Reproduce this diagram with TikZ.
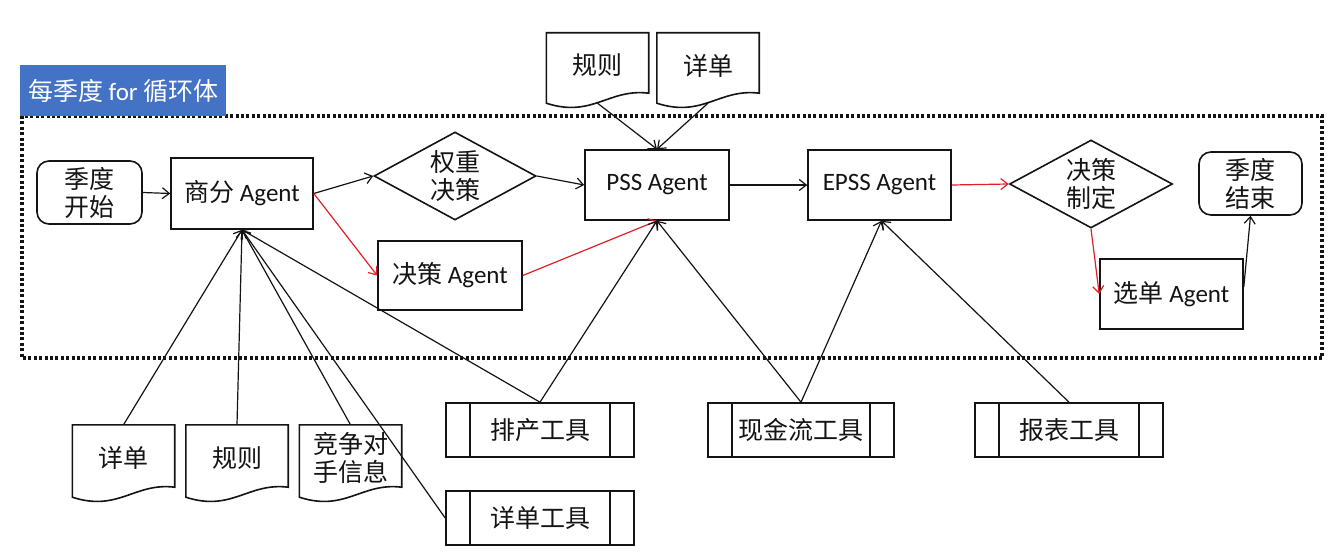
\documentclass[tikz,border=0pt]{standalone}
\usepackage{fontspec}
\setmainfont{Carlito}
\newfontfamily\cjk{Noto Sans CJK SC}
\usetikzlibrary{shapes.geometric,arrows.meta,calc}
\newcommand{\zh}[1]{{\cjk #1}}
\definecolor{lblue}{RGB}{68,114,196}
\definecolor{lred}{RGB}{226,30,40}
\definecolor{ink}{RGB}{20,20,20}
\newcommand{\docline}[1]{\draw[ink, line width=1.6pt] (#1.south west) -- (#1.north west) -- (#1.north east) -- ($(#1.south east)+(0,-10)$) .. controls ($(#1.south east)+(-40,-15)$) and ($(#1.south west)+(46,15)$) .. (#1.south west) -- cycle;}
\begin{document}
\begin{tikzpicture}[x=1pt,y=-1pt,
  every node/.style={font=\fontsize{25}{28}\selectfont, text=ink, align=center, inner sep=0pt},
  sq/.style={draw=ink, line width=1.6pt, rectangle},
  term/.style={sq, rounded corners=12pt},
  dia/.style={draw=ink, line width=1.6pt, diamond, aspect=1.85},
  doc/.style={rectangle, minimum width=102pt},
  tool/.style={sq, minimum width=188pt, minimum height=54pt,
    path picture={
      \draw[ink, line width=1.6pt] ([xshift=24pt]path picture bounding box.north west) -- ([xshift=24pt]path picture bounding box.south west);
      \draw[ink, line width=1.6pt] ([xshift=-24pt]path picture bounding box.north east) -- ([xshift=-24pt]path picture bounding box.south east);
    }},
  conn/.style={draw=ink, line width=1.2pt, -{Straight Barb[length=7pt,width=11pt]}},
  rconn/.style={conn, draw=lred},
  frame/.style={draw=ink, line width=3.4pt, dash pattern=on 3pt off 2.4pt}
]
\useasboundingbox (0,0) rectangle (1334,553);
\fill[white] (0,0) rectangle (1334,553);

% loop frame and label
\draw[frame] (22,116) rectangle (1322,358);
\node[fill=lblue, text=white, minimum width=206pt, minimum height=51pt, anchor=north west] (loop) at (20,65) {\zh{每季度} for \zh{循环体}};

% main flow
\node[term, minimum width=105pt, minimum height=63pt] (start) at (89.5,192.5) {\zh{季度}\\\zh{开始}};
\node[sq, minimum width=142pt, minimum height=71pt] (sf) at (242,193.5) {\zh{商分} Agent};
\node[dia, minimum width=162pt, minimum height=88pt] (wd) at (455,176) {\zh{权重}\\\zh{决策}};
\node[sq, minimum width=144pt, minimum height=69pt] (da) at (450,275.5) {\zh{决策} Agent};
\node[sq, minimum width=144pt, minimum height=70pt] (pss) at (657,185) {PSS Agent};
\node[sq, minimum width=143pt, minimum height=70pt] (epss) at (879.5,185) {EPSS Agent};
\node[dia, minimum width=163pt, minimum height=88pt] (jd) at (1091,184) {\zh{决策}\\\zh{制定}};
\node[term, minimum width=103pt, minimum height=63pt] (end) at (1250.5,183.5) {\zh{季度}\\\zh{结束}};
\node[sq, minimum width=143pt, minimum height=70pt] (xd) at (1171.5,294) {\zh{选单} Agent};

% documents
\node[doc, minimum height=70pt] (ruleT) at (597.5,68) {\zh{规则}\\[-21pt]};
\node[doc, minimum height=70pt] (listT) at (708,68) {\zh{详单}\\[-21pt]};
\node[doc, minimum height=72pt] (listB) at (123.5,461) {\zh{详单}\\[-20pt]};
\node[doc, minimum height=72pt] (ruleB) at (237,461) {\zh{规则}\\[-20pt]};
\node[doc, minimum height=72pt] (compB) at (350.5,461) {\zh{竞争对}\\\zh{手信息}\\[-20pt]};
\docline{ruleT}
\docline{listT}
\docline{listB}
\docline{ruleB}
\docline{compB}

% tools
\node[tool] (pc) at (540,430) {\zh{排产工具}};
\node[tool] (xdt) at (540,518) {\zh{详单工具}};
\node[tool, minimum width=186pt] (cash) at (801,430) {\zh{现金流工具}};
\node[tool] (rep) at (1069,430) {\zh{报表工具}};

% connectors
\draw[conn] (start.east) -- (sf.west);
\draw[conn] (sf.east) -- (wd.west);
\draw[conn] (wd.east) -- (pss.west);
\draw[rconn] (sf.east) -- (da.west);
\draw[rconn] (da.east) -- (pss.south);
\draw[conn] (pss.east) -- (epss.west);
\draw[rconn] (epss.east) -- (jd.west);
\draw[rconn] (jd.south) -- (xd.west);
\draw[conn] ([yshift=7pt]xd.east) -- (end.south);

\draw[conn] (ruleT.south) -- (pss.north);
\draw[conn] (listT.south) -- (pss.north);

\draw[conn] (listB.north) -- (sf.south);
\draw[conn] (ruleB.north) -- (sf.south);
\draw[conn] (compB.north) -- (sf.south);
\draw[conn] (pc.north) -- (sf.south);
\draw[conn] (xdt.west) -- (sf.south);

\draw[conn] (pc.north) -- (pss.south);
\draw[conn] (cash.north) -- (pss.south);
\draw[conn] (cash.north) -- ([xshift=2pt]epss.south);
\draw[conn] (rep.north) -- ([xshift=2pt]epss.south);
\end{tikzpicture}
\end{document}
